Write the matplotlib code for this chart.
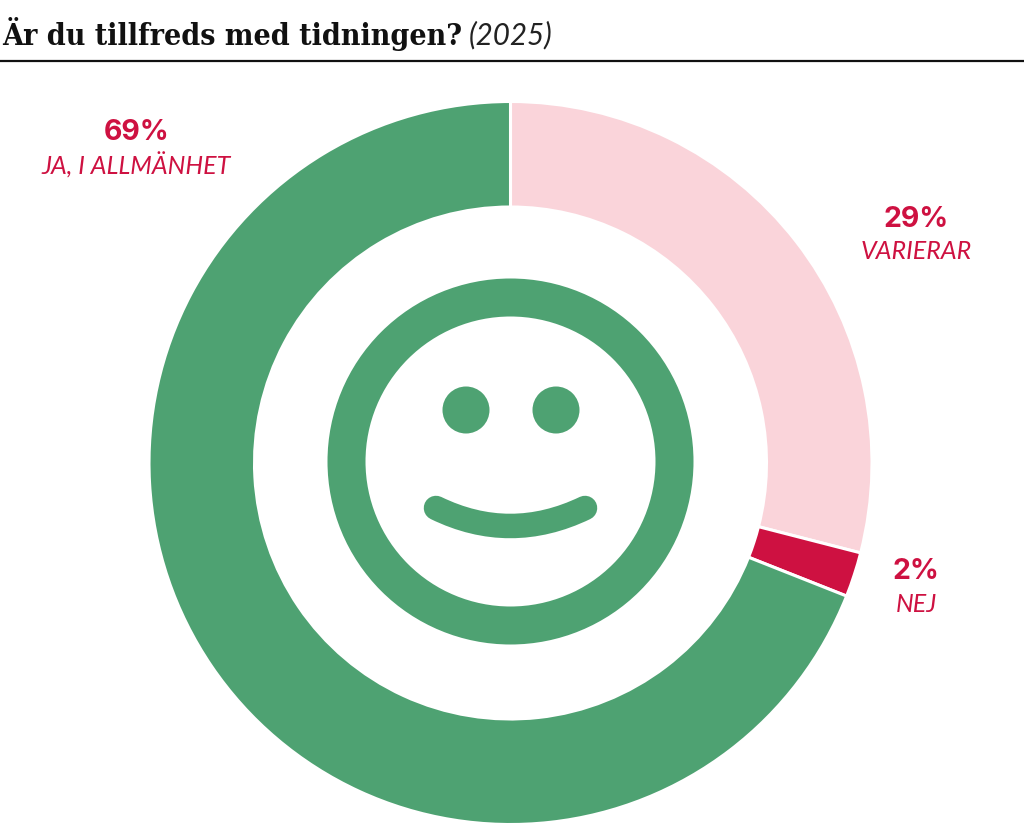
import matplotlib
matplotlib.use("Agg")
import matplotlib.pyplot as plt
from matplotlib.patches import Circle, PathPatch
from matplotlib.path import Path

labels = ["VARIERAR", "NEJ", "JA, I ALLMÄNHET"]
values = [29, 2, 69]
colors = ["#FAD4DA", "#CE1141", "#4EA272"]
pct = ["29%", "2%", "69%"]
W, H = 1024, 828
RED = "#CE1141"
GREEN = "#4EA272"

fig = plt.figure(figsize=(W/100, H/100), dpi=100, facecolor="white")
ax = fig.add_axes([0, 0, 1, 1])

cx, cy, R = 510.5, 464, 361.5
ax.pie(values, colors=colors, center=(cx, cy), radius=R, startangle=-90,
       counterclock=True, frame=False,
       wedgeprops=dict(width=R-256, edgecolor="white", linewidth=2.2))
ax.set_xlim(0, W); ax.set_ylim(H, 0); ax.axis("off"); ax.set_aspect("equal")

# Title
ax.text(2, 34, "Är du tillfreds med tidningen?", fontsize=21.7, fontweight="bold",
        family="DejaVu Serif", stretch="condensed", va="center", ha="left", color="#111111")
ax.text(469, 35.5, "(2025)", fontsize=21.3, style="italic", family="Lato",
        va="center", ha="left", color="#222222")
ax.plot([0, W], [61.5, 61.5], color="#111111", lw=1.6)

# Labels
lab = [(916, 220, 252), (916, 572, 605), (136.5, 132, 165)]
for (x, y1, y2), p, l in zip(lab, pct, labels):
    ax.text(x, y1, p, color=RED, fontsize=20.5, fontweight="bold", family="Inter", ha="center", va="center")
    ax.text(x, y2, l, color=RED, fontsize=18, style="italic", family="Lato", ha="center", va="center")

# Smiley
ax.add_patch(Circle((cx, 462.5), 164, fill=False, ec=GREEN, lw=38*72/100))
for ex in (466, 556):
    ax.add_patch(Circle((ex, 411), 23.5, fc=GREEN, ec="none"))
verts = [(436, 509), (510, 545), (585, 509)]
ax.add_patch(PathPatch(Path(verts, [Path.MOVETO, Path.CURVE3, Path.CURVE3]), fill=False,
                       ec=GREEN, lw=24.5*72/100, capstyle="round"))
fig.savefig("out.png", dpi=100, facecolor="white")
